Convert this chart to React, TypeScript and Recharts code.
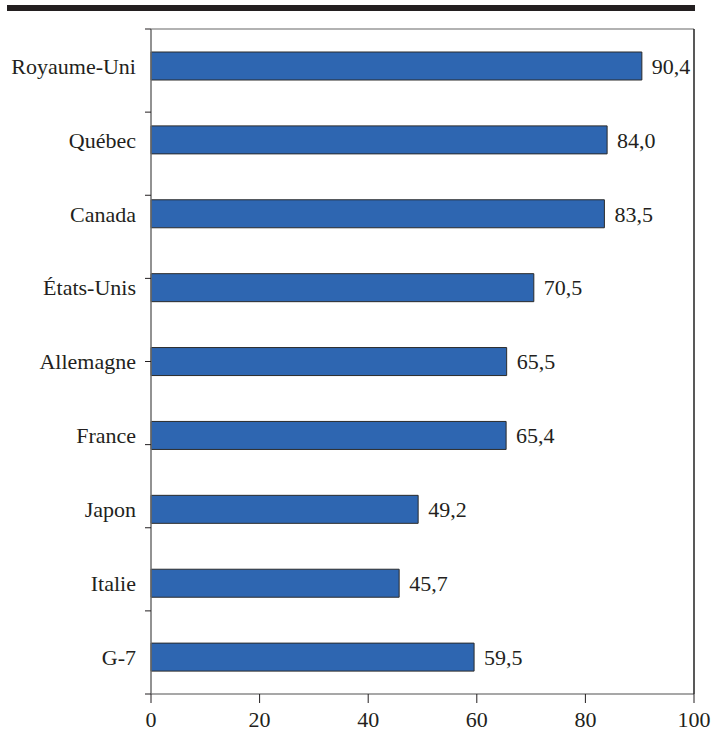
import React from "react";
import { BarChart, Bar, XAxis, YAxis, LabelList } from "recharts";

const categories = ["Royaume-Uni", "Québec", "Canada", "États-Unis", "Allemagne", "France", "Japon", "Italie", "G-7"];
const values = [90.4, 84.0, 83.5, 70.5, 65.5, 65.4, 49.2, 45.7, 59.5];
const xTicks = [0, 20, 40, 60, 80, 100];
const boundaryTicks = [0, 1, 2, 3, 4, 5, 6, 7, 8, 9];

const data = categories.map((name, i) => ({ name, value: values[i] }));

const FONT = "Liberation Serif";
const TEXT = "#231f20";

const fmt = (v: any) => Number(v).toFixed(1).replace(".", ",");

const EmptyTick = () => <g />;

const CatTick = (props: any) => (
  <text
    x={props.x}
    y={props.y}
    dy="0.355em"
    textAnchor="end"
    fill={TEXT}
    fontSize={22}
    fontFamily={FONT}
    fontWeight="normal"
  >
    {props.payload.value}
  </text>
);

const NumTick = (props: any) => (
  <text
    x={props.x}
    y={props.y}
    dy="0.71em"
    textAnchor="middle"
    fill={TEXT}
    fontSize={22}
    fontFamily={FONT}
    fontWeight="normal"
  >
    {props.payload.value}
  </text>
);

export default function App() {
  return (
    <div style={{ position: "absolute", left: 0, top: 0, width: 712, height: 731, background: "#fff", fontFamily: FONT }}>
      <div style={{ position: "absolute", left: 7, top: 5, width: 688, height: 6, background: TEXT }} />
      <div style={{ position: "absolute", left: 0, top: 0 }}>
        <BarChart
          width={712}
          height={731}
          data={data}
          layout="vertical"
          margin={{ top: 28, right: 17, bottom: 0, left: 0 }}
          barCategoryGap={0}
        >
          <XAxis
            xAxisId="bottom"
            type="number"
            domain={[0, 100]}
            ticks={xTicks}
            height={37}
            tickSize={9}
            tickMargin={8}
            axisLine={{ stroke: "#8a8a8a", strokeWidth: 1.5 }}
            tickLine={{ stroke: TEXT }}
            tick={NumTick}
          />
          <XAxis
            xAxisId="top"
            orientation="top"
            type="number"
            domain={[0, 100]}
            height={1}
            tick={false}
            tickLine={false}
            axisLine={{ stroke: "#999", strokeWidth: 1.5 }}
          />
          <YAxis
            yAxisId="bounds"
            type="number"
            domain={[0, 9]}
            ticks={boundaryTicks}
            interval={0}
            width={1}
            tick={EmptyTick}
            tickSize={6}
            tickLine={{ stroke: TEXT, strokeWidth: 1 }}
            axisLine={{ stroke: "#6e6e6e", strokeWidth: 1.5 }}
          />
          <YAxis
            yAxisId="cat"
            type="category"
            dataKey="name"
            width={150}
            tickSize={6}
            tickMargin={8}
            tickLine={false}
            axisLine={false}
            tick={CatTick}
          />
          <YAxis
            yAxisId="right"
            orientation="right"
            type="number"
            domain={[0, 9]}
            width={1}
            tick={false}
            tickLine={false}
            axisLine={{ stroke: "#222", strokeWidth: 1.5 }}
          />
          <Bar
            xAxisId="bottom"
            yAxisId="cat"
            dataKey="value"
            fill="#2e66b1"
            stroke="#2b2b2b"
            strokeWidth={1}
            barSize={28}
            isAnimationActive={false}
          >
            <LabelList
              dataKey="value"
              position="right"
              offset={10}
              formatter={fmt}
              style={{ fill: TEXT, fontSize: 22, fontFamily: FONT }}
            />
          </Bar>
        </BarChart>
      </div>
    </div>
  );
}
